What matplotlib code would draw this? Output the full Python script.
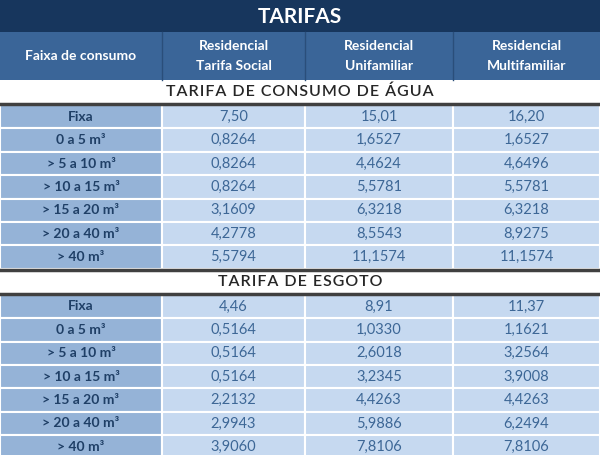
import matplotlib
matplotlib.use("Agg")
import matplotlib.pyplot as plt
from matplotlib.patches import Rectangle

title = "TARIFAS"
header_first = "Faixa de consumo"
headers = ["Residencial\nTarifa Social", "Residencial\nUnifamiliar", "Residencial\nMultifamiliar"]
faixas = ["Fixa", "0 a 5 m³", "> 5 a 10 m³", "> 10 a 15 m³", "> 15 a 20 m³", "> 20 a 40 m³", "> 40 m³"]
section_agua = "TARIFA DE CONSUMO DE ÁGUA"
agua_social = ["7,50", "0,8264", "0,8264", "0,8264", "3,1609", "4,2778", "5,5794"]
agua_uni = ["15,01", "1,6527", "4,4624", "5,5781", "6,3218", "8,5543", "11,1574"]
agua_multi = ["16,20", "1,6527", "4,6496", "5,5781", "6,3218", "8,9275", "11,1574"]
section_esgoto = "TARIFA DE ESGOTO"
esg_social = ["4,46", "0,5164", "0,5164", "0,5164", "2,2132", "2,9943", "3,9060"]
esg_uni = ["8,91", "1,0330", "2,6018", "3,2345", "4,4263", "5,9886", "7,8106"]
esg_multi = ["11,37", "1,1621", "3,2564", "3,9008", "4,4263", "6,2494", "7,8106"]

W, H = 600, 455
fig = plt.figure(figsize=(6, 4.55), dpi=100)
ax = fig.add_axes([0, 0, 1, 1])
ax.set_xlim(0, W); ax.set_ylim(H, 0); ax.axis("off")
FONT = "Lato"
NAVY = "#17365d"; HEAD = "#3a6598"; FIRST = "#95b3d7"; LIGHT = "#c6d9f0"
TXT1 = "#1f3f66"; TXT2 = "#3d6796"
cols = [0, 162, 305, 453, 600]

def rect(x0, y0, x1, y1, c, ec="none", lw=0):
    ax.add_patch(Rectangle((x0, y0), x1 - x0, y1 - y0, facecolor=c, edgecolor=ec, lw=lw))

rect(0, 0, W, 32, NAVY)
ax.text(300, 17, title, color="white", fontsize=15, fontweight="bold", ha="center", va="center", family=FONT)
rect(0, 32, W, 80, HEAD)
ax.text(81, 56, header_first, color="white", fontsize=10, fontweight="bold", ha="center", va="center", family=FONT)
for i, h in enumerate(headers):
    cx = (cols[i+1] + cols[i+2]) / 2
    ax.text(cx, 56, h, color="white", fontsize=10, fontweight="bold", ha="center", va="center",
            family=FONT, linespacing=1.7)
for x in cols[1:-1]:
    ax.plot([x, x], [32, 80], color="#2a4e7a", lw=1)

def spaced(s):
    return "\u200a".join(s)

def section(y0, name, vals):
    rect(0, y0, W, y0 + 24, "white")
    ax.plot([0, W], [y0 + 24, y0 + 24], color="#404040", lw=2.5)
    ax.text(300, y0 + 12, spaced(name), color="#262626", fontsize=11.5, fontweight="semibold",
            ha="center", va="center", family=FONT)
    rh = 23.4
    top = y0 + 25
    for r, f in enumerate(faixas):
        y = top + r * rh
        rect(cols[0], y, cols[1], y + rh, FIRST, "white", 1.5)
        ax.text(81, y + rh / 2, f, color=TXT1, fontsize=10, fontweight="bold", ha="center", va="center", family=FONT)
        for c, series in enumerate(vals):
            rect(cols[c+1], y, cols[c+2], y + rh, LIGHT, "white", 1.5)
            ax.text((cols[c+1] + cols[c+2]) / 2, y + rh / 2, series[r], color=TXT2, fontsize=10.5,
                    ha="center", va="center", family=FONT)
    return top + 7 * rh

end = section(80, section_agua, [agua_social, agua_uni, agua_multi])
ax.plot([0, W], [end + 1, end + 1], color="#404040", lw=2.5)
section(end + 1, section_esgoto, [esg_social, esg_uni, esg_multi])
fig.savefig("out.png", dpi=100)
